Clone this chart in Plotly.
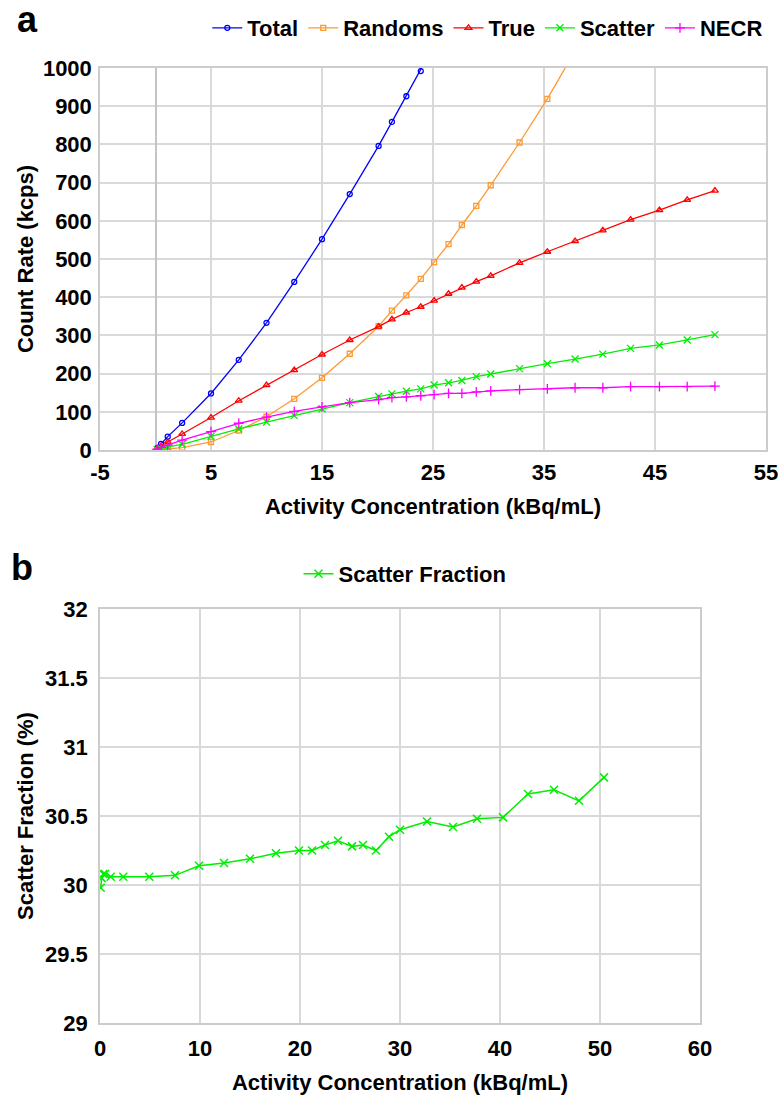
import plotly.graph_objects as go

# ---- Panel a data (kBq/mL vs kcps) ----
activity_a = [0.15, 0.5, 1.1, 2.4, 5.0, 7.5, 10.0, 12.5, 15.0, 17.5, 20.1, 21.3, 22.6, 23.9,
              25.1, 26.4, 27.6, 28.9, 30.2, 32.8, 35.3, 37.8, 40.3, 42.8, 45.4, 47.9, 50.4]
total = [5, 16, 35, 71, 148, 236, 333, 440, 552, 670, 796, 859, 926, 992, 1060]
randoms = [0, 1, 2, 6, 21, 51, 87, 134, 189, 252, 324, 365, 405, 448, 492, 539, 589, 639,
           693, 805, 919, 1045]
true_ = [3, 10, 21, 42, 85, 129, 170, 209, 250, 288, 323, 342, 360, 375, 391, 409, 425, 441,
         456, 490, 519, 547, 575, 603, 628, 655, 679]
scatter = [1, 4, 8, 15, 36, 55, 73, 90, 108, 124, 140, 147, 154, 160, 170, 176, 182, 192,
           199, 213, 226, 238, 251, 266, 275, 288, 302]
necr = [2, 7, 13, 26, 48, 70, 86, 101, 113, 124, 132, 137, 139, 142, 145, 148, 148, 152,
        155, 158, 160, 163, 163, 166, 166, 166, 167]
x_ticks_a = [-5, 5, 15, 25, 35, 45, 55]
x_ticklabels_a = ["-5", "5", "15", "25", "35", "45", "55"]

# ---- Panel b data (scatter fraction %) ----
activity_b = [0.07, 0.17, 0.33, 0.5, 1.07, 2.33, 4.93, 7.5, 9.9, 12.4, 15.0, 17.6, 19.9, 21.2,
              22.5, 23.8, 25.2, 26.3, 27.6, 28.9, 30.0, 32.7, 35.3, 37.7, 40.3, 42.8, 45.4,
              47.9, 50.4]
scatter_fraction = [29.98, 30.05, 30.08, 30.08, 30.06, 30.06, 30.06, 30.07, 30.14, 30.16,
                    30.19, 30.23, 30.25, 30.25, 30.29, 30.32, 30.28, 30.29, 30.25, 30.35,
                    30.40, 30.46, 30.42, 30.48, 30.49, 30.66, 30.69, 30.61, 30.78]

FONT = "Liberation Sans"
grid = "#d9d9d9"

fig = go.Figure()

series = [
    ("Total", total, "#0000ff", "circle-open", 5),
    ("Randoms", randoms, "#ff9933", "square-open", 5),
    ("True", true_, "#ff0000", "triangle-up-open", 6),
    ("Scatter", scatter, "#00ee00", "x-thin-open", 7),
    ("NECR", necr, "#ff00ff", "cross-thin-open", 7),
]
for name, vals, col, sym, sz in series:
    fig.add_trace(go.Scatter(
        x=activity_a[:len(vals)], y=vals, name=name, mode="lines+markers",
        line=dict(color=col, width=1.3),
        marker=dict(symbol=sym, size=sz, color=col, line=dict(color=col, width=1.3)),
        xaxis="x", yaxis="y", legend="legend", cliponaxis=True,
    ))

fig.add_trace(go.Scatter(
    x=activity_b, y=scatter_fraction, name="Scatter Fraction", mode="lines+markers",
    line=dict(color="#00ee00", width=1.5),
    marker=dict(symbol="x-thin-open", size=8, color="#00ee00", line=dict(color="#00ee00", width=1.5)),
    xaxis="x2", yaxis="y2", legend="legend2",
))

tickfont = dict(family=FONT, size=22, color="black", weight="bold")
titlefont = dict(family=FONT, size=22, color="black", weight="bold")

axis_common = dict(showgrid=True, gridcolor=grid, gridwidth=1.5, showline=True,
                   linecolor="#cccccc", linewidth=1.5, mirror=True, ticks="",
                   tickfont=tickfont, fixedrange=True)

W, H = 780, 1097
fig.update_layout(
    width=W, height=H,
    margin=dict(l=0, r=0, t=0, b=0, autoexpand=False),
    paper_bgcolor="white", plot_bgcolor="white",
    showlegend=True,
    xaxis=dict(domain=[100 / W, 766 / W], range=[-5, 55],
               tickmode="array", tickvals=x_ticks_a, ticktext=x_ticklabels_a,
               zeroline=True, zerolinecolor="#c4c4c4", zerolinewidth=1.5,
               ticklabelstandoff=2,
               title=dict(text="Activity Concentration (kBq/mL)", font=titlefont, standoff=14),
               anchor="y", **axis_common),
    yaxis=dict(domain=[1 - 450 / H, 1 - 68 / H], range=[0, 1000], dtick=100,
               zeroline=False, ticklabelstandoff=2,
               title=dict(text="Count Rate (kcps)", font=titlefont, standoff=3),
               anchor="x", **axis_common),
    xaxis2=dict(domain=[100 / W, 700 / W], range=[0, 60], dtick=10,
                zeroline=False, ticklabelstandoff=5,
                title=dict(text="Activity Concentration (kBq/mL)", font=titlefont, standoff=14),
                anchor="y2", **axis_common),
    yaxis2=dict(domain=[1 - 1023 / H, 1 - 609 / H], range=[29, 32], dtick=0.5,
                zeroline=False, ticklabelstandoff=6,
                title=dict(text="Scatter Fraction (%)", font=titlefont, standoff=5),
                anchor="x2", **axis_common),
    legend=dict(orientation="h", x=0.985, xanchor="right", y=1 - 28 / H, yanchor="middle",
                font=dict(family=FONT, size=22, color="black", weight="bold"),
                itemwidth=30, tracegroupgap=0, bgcolor="rgba(0,0,0,0)"),
    legend2=dict(orientation="h", x=405 / W, xanchor="center", y=1 - 574 / H, yanchor="middle",
                 font=dict(family=FONT, size=22, color="black", weight="bold"),
                 itemwidth=30, bgcolor="rgba(0,0,0,0)"),
    annotations=[
        dict(text="a", x=27 / W, y=1 - 42 / H, xref="paper", yref="paper", xanchor="center",
             yanchor="bottom", showarrow=False,
             font=dict(family=FONT, size=36, color="black", weight="bold")),
        dict(text="b", x=22 / W, y=1 - 567 / H, xref="paper", yref="paper", xanchor="center",
             yanchor="middle", showarrow=False,
             font=dict(family=FONT, size=36, color="black", weight="bold")),
    ],
)

fig.write_html("out.html")
